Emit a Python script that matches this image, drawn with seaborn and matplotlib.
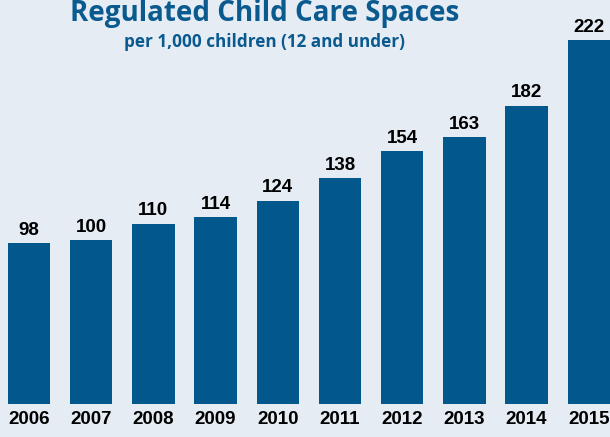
import matplotlib
matplotlib.use("Agg")
import matplotlib.pyplot as plt
import seaborn as sns
import pandas as pd

years = ["2006", "2007", "2008", "2009", "2010", "2011", "2012", "2013", "2014", "2015"]
spaces = [98, 100, 110, 114, 124, 138, 154, 163, 182, 222]

title = "Regulated Child Care Spaces"
subtitle = "per 1,000 children (12 and under)"

bg = "#E5ECF4"
bar_color = "#02578D"
title_color = "#0B5A8F"

sns.set_theme(style="white")
plt.rcParams["font.family"] = ["Liberation Sans", "DejaVu Sans"]

df = pd.DataFrame({"year": years, "spaces": spaces})

fig = plt.figure(figsize=(6.1, 4.37), dpi=100, facecolor=bg)
ax = fig.add_axes([0, 33 / 437, 1, 404 / 437])
ax.set_facecolor(bg)

sns.barplot(data=df, x="year", y="spaces", color=bar_color, width=0.68,
            saturation=1, linewidth=0, ax=ax)

ax.set_xlim(-29 / 62.2, (610 - 29) / 62.2)
ax.set_ylim(0, 404 / 1.64)
for s in ax.spines.values():
    s.set_visible(False)
ax.set_xlabel("")
ax.set_ylabel("")
ax.set_yticks([])
ax.tick_params(axis="x", length=0, pad=5)
for lbl in ax.get_xticklabels():
    lbl.set_fontweight("bold")
    lbl.set_fontsize(13.5)
    lbl.set_color("black")

for i, v in enumerate(spaces):
    ax.annotate(str(v), (i, v), xytext=(0, 3), textcoords="offset points",
                ha="center", va="bottom", fontsize=13.5, fontweight="bold",
                color="black")

fig.text(265 / 610, 1 - 14 / 437, title, ha="center", va="center",
         fontsize=20, fontweight="bold", color=title_color,
         family=["Open Sans", "DejaVu Sans"])
fig.text(264 / 610, 1 - 42 / 437, subtitle, ha="center", va="center",
         fontsize=12.3, fontweight="bold", color=title_color,
         family=["Open Sans", "DejaVu Sans"])

fig.savefig("out.png", dpi=100, facecolor=bg)
